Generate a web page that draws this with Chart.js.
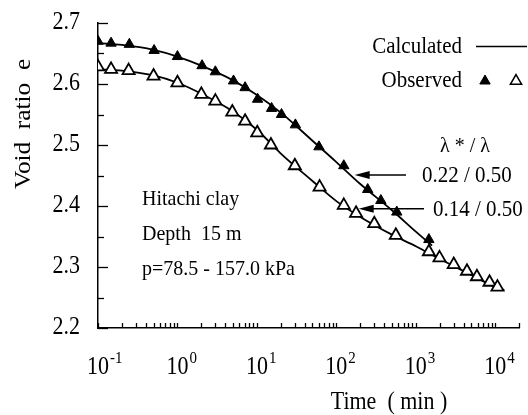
<!DOCTYPE html>
<html>
<head>
<meta charset="utf-8">
<script src="https://cdn.jsdelivr.net/npm/chart.js@4.4.1/dist/chart.umd.min.js"></script>
<style>
  html, body { margin: 0; padding: 0; background: #fff; }
  #wrap { width: 528px; height: 415px; }
</style>
</head>
<body>
<div id="wrap"><canvas id="voidChart" width="528" height="415"></canvas></div>
<script>
// observed points, lambda*/lambda = 0.22 (filled triangles)
var obsTimeA = [0.1, 0.146, 0.248, 0.508, 1.0, 2.04, 3.0, 5.08, 7.1, 10.2, 15.3, 20.4, 30.5, 60.4, 124, 248, 363, 576, 1460];
var obsVoidA = [2.670, 2.667, 2.665, 2.655, 2.645, 2.630, 2.620, 2.605, 2.594, 2.575, 2.560, 2.550, 2.533, 2.497, 2.466, 2.427, 2.409, 2.390, 2.345];

// observed points, lambda*/lambda = 0.14 (open triangles)
var obsTimeB = [0.1, 0.146, 0.243, 0.50, 1.0, 2.0, 3.0, 4.9, 7.1, 10.1, 15, 30, 61.5, 124, 177, 300, 560, 1460, 1986, 3000, 4400, 5870, 8460, 10650];
var obsVoidB = [2.628, 2.624, 2.622, 2.613, 2.602, 2.583, 2.572, 2.554, 2.539, 2.520, 2.500, 2.466, 2.431, 2.401, 2.388, 2.371, 2.352, 2.325, 2.315, 2.304, 2.293, 2.284, 2.275, 2.267];

// calculated curves
var calcTimeA = [0.1, 0.2, 0.5, 1, 2, 5, 10, 20, 50, 100, 200, 500, 1000, 1600];
var calcVoidA = [2.667, 2.664, 2.656, 2.645, 2.630, 2.606, 2.582, 2.553, 2.507, 2.472, 2.436, 2.393, 2.358, 2.335];
var calcTimeB = [0.1, 0.2, 0.5, 1, 2, 5, 10, 20, 50, 100, 200, 500, 1000, 2000, 5000, 10000, 13000];
var calcVoidB = [2.624, 2.622, 2.614, 2.602, 2.584, 2.555, 2.525, 2.486, 2.441, 2.408, 2.382, 2.353, 2.334, 2.313, 2.287, 2.267, 2.262];

// axes
var yTicks = [2.2, 2.3, 2.4, 2.5, 2.6, 2.7];
var xDecades = [-1, 0, 1, 2, 3, 4];
var xMin = 0.1, xMax = 20000;

// arrow labels and where the arrows point (time, void ratio)
var arrowLabels = ['0.22 / 0.50', '0.14 / 0.50'];
var arrowTime = [170, 191];
var arrowVoid = [2.451, 2.3954];

var FONT = '"Liberation Serif", "Times New Roman", serif';

function toPoints(xs, ys) {
  return xs.map(function(x, i) { return {x: x, y: ys[i]}; });
}

function txt(ctx, s, x, y, size, align) {
  ctx.save();
  ctx.font = size + 'px ' + FONT;
  ctx.textAlign = align || 'left';
  ctx.textBaseline = 'alphabetic';
  ctx.translate(x, y);
  ctx.scale(1, 1.1);
  ctx.fillText(s, 0, 0);
  ctx.restore();
}

function arrow(ctx, x1, x2, y) {
  ctx.beginPath();
  ctx.moveTo(x1, y);
  ctx.lineTo(x2 + 12, y);
  ctx.stroke();
  ctx.beginPath();
  ctx.moveTo(x2, y);
  ctx.lineTo(x2 + 15, y - 4);
  ctx.lineTo(x2 + 15, y + 4);
  ctx.closePath();
  ctx.fill();
}

var extras = {
  id: 'extras',
  afterDraw: function(chart) {
    var ctx = chart.ctx;
    var xs = chart.scales.x, ys = chart.scales.y;
    var area = chart.chartArea;
    ctx.save();
    ctx.fillStyle = '#000';
    ctx.strokeStyle = '#000';
    ctx.lineWidth = 1.3;

    // x ticks, pointing up into the plot
    xDecades.forEach(function(d) {
      for (var m = 1; m <= 9; m++) {
        var v = m * Math.pow(10, d);
        if (v < xMin || v > xMax * 1.0001) continue;
        var px = Math.round(xs.getPixelForValue(v)) + 0.5;
        ctx.beginPath();
        ctx.moveTo(px, area.bottom);
        ctx.lineTo(px, area.bottom - 5);
        ctx.stroke();
      }
      // label 10^d
      var cx = xs.getPixelForValue(Math.pow(10, d));
      txt(ctx, '10', cx, 374, 22, 'center');
      ctx.font = '22px ' + FONT;
      var w = ctx.measureText('10').width;
      txt(ctx, String(d), cx + w / 2 + 1, 363, 15, 'left');
    });

    // y ticks, pointing right into the plot
    for (var i = 0; i < yTicks.length; i++) {
      var py = Math.round(ys.getPixelForValue(yTicks[i])) + 0.5;
      ctx.beginPath();
      ctx.moveTo(area.left, py);
      ctx.lineTo(area.left + 10, py);
      ctx.stroke();
      txt(ctx, yTicks[i].toFixed(1), 80, py + 5, 22, 'right');
      if (i < yTicks.length - 1) {
        var pm = Math.round(ys.getPixelForValue((yTicks[i] + yTicks[i + 1]) / 2)) + 0.5;
        ctx.beginPath();
        ctx.moveTo(area.left, pm);
        ctx.lineTo(area.left + 6, pm);
        ctx.stroke();
      }
    }

    // axis titles
    txt(ctx, 'Time  ( min )', 389, 409, 22, 'center');
    ctx.save();
    ctx.font = '23px ' + FONT;
    ctx.textAlign = 'center';
    ctx.translate(30, 124);
    ctx.rotate(-Math.PI / 2);
    ctx.scale(1.1, 1);
    ctx.fillText('Void  ratio  e', 0, 0);
    ctx.restore();

    // legend
    txt(ctx, 'Calculated', 462, 53, 21, 'right');
    ctx.lineWidth = 1.5;
    ctx.beginPath();
    ctx.moveTo(476, 46.5);
    ctx.lineTo(527, 46.5);
    ctx.stroke();
    txt(ctx, 'Observed', 462, 87, 21, 'right');
    ctx.lineWidth = 1;
    Chart.helpers.drawPoint(ctx, {pointStyle: 'triangle', radius: 6, borderWidth: 1, rotation: 0}, 485, 81);
    ctx.fillStyle = '#fff';
    ctx.lineWidth = 1.5;
    Chart.helpers.drawPoint(ctx, {pointStyle: 'triangle', radius: 6.5, borderWidth: 1.5, rotation: 0}, 516, 81);
    ctx.fillStyle = '#000';

    // text block
    txt(ctx, 'Hitachi clay', 142, 205, 20, 'left');
    txt(ctx, 'Depth  15 m', 142, 240, 20, 'left');
    txt(ctx, 'p=78.5 - 157.0 kPa', 142, 275, 20, 'left');

    // lambda labels with arrows
    txt(ctx, '\u03bb * / \u03bb', 465, 152, 20, 'center');
    ctx.lineWidth = 1.5;
    var tails = [406, 424];
    var labelX = [422, 433];
    for (var k = 0; k < arrowLabels.length; k++) {
      var ax = xs.getPixelForValue(arrowTime[k]);
      var ay = ys.getPixelForValue(arrowVoid[k]);
      arrow(ctx, tails[k], ax, ay);
      txt(ctx, arrowLabels[k], labelX[k], ay + 7, 21, 'left');
    }
    ctx.restore();
  }
};

var ctx = document.getElementById('voidChart').getContext('2d');
var myChart = new Chart(ctx, {
  type: 'scatter',
  data: {
    datasets: [{
      label: 'Observed 0.22',
      data: toPoints(obsTimeA, obsVoidA),
      pointStyle: 'triangle',
      pointRadius: 6,
      backgroundColor: '#000',
      borderColor: '#000',
      borderWidth: 1
    }, {
      label: 'Observed 0.14',
      data: toPoints(obsTimeB, obsVoidB),
      pointStyle: 'triangle',
      pointRadius: 7,
      backgroundColor: '#fff',
      borderColor: '#000',
      borderWidth: 1.8
    }, {
      label: 'Calculated 0.22',
      data: toPoints(calcTimeA, calcVoidA),
      showLine: true,
      cubicInterpolationMode: 'monotone',
      pointRadius: 0,
      borderColor: '#000',
      borderWidth: 1.8
    }, {
      label: 'Calculated 0.14',
      data: toPoints(calcTimeB, calcVoidB),
      showLine: true,
      cubicInterpolationMode: 'monotone',
      pointRadius: 0,
      borderColor: '#000',
      borderWidth: 1.8
    }]
  },
  options: {
    responsive: false,
    animation: false,
    devicePixelRatio: 1,
    layout: { padding: { left: 98, top: 23, right: 6, bottom: 87 } },
    plugins: { legend: { display: false }, tooltip: { enabled: false } },
    scales: {
      x: {
        type: 'logarithmic',
        min: xMin,
        max: xMax,
        grid: { display: false, drawTicks: false },
        border: { display: true, color: '#000', width: 1.5 },
        ticks: { display: false }
      },
      y: {
        min: 2.2,
        max: 2.7,
        grid: { display: false, drawTicks: false },
        border: { display: true, color: '#000', width: 1.5 },
        ticks: { display: false }
      }
    }
  },
  plugins: [extras]
});
</script>
</body>
</html>
